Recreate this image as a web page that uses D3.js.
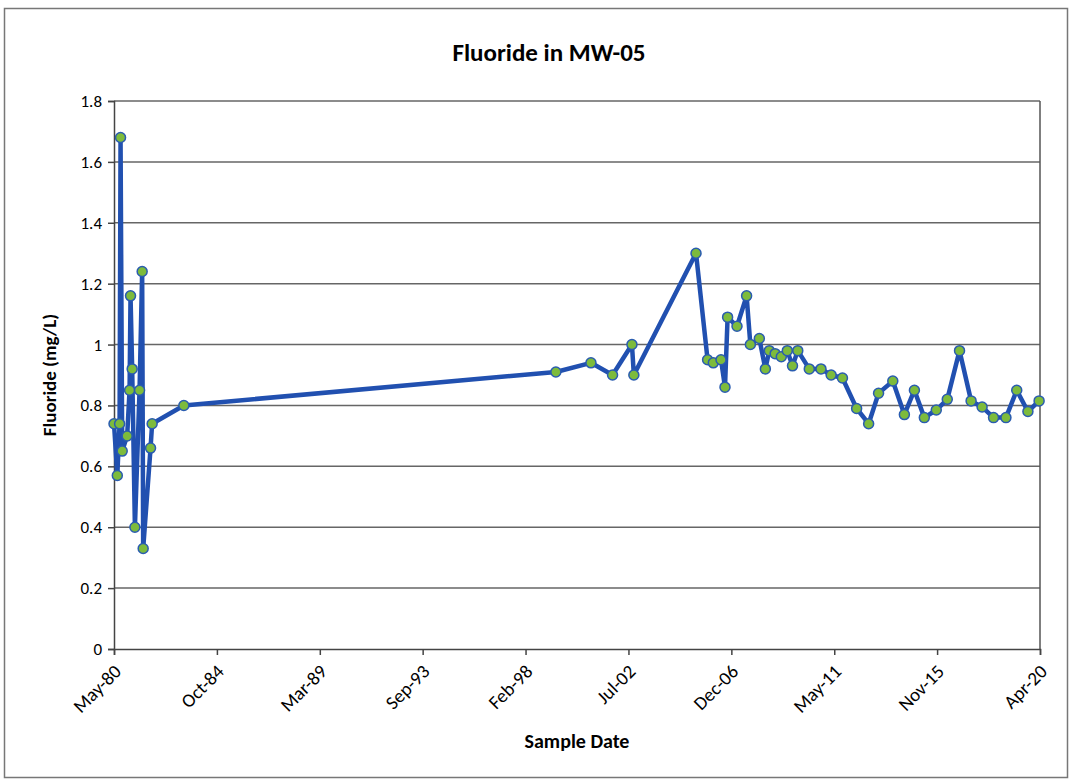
<!DOCTYPE html>
<html>
<head>
<meta charset="utf-8">
<script src="https://cdn.jsdelivr.net/npm/d3@7"></script>
<style>
  body { margin: 0; background: #fff; }
  svg text { font-family: Carlito, Lato, sans-serif; fill: #000; }
</style>
</head>
<body>
<svg id="chart"></svg>
<script>
// sample dates and fluoride results
const sampleDates = [
  '1980-05-19', '1980-07-10', '1980-08-15', '1980-08-30', '1980-09-25', '1980-12-12',
  '1981-01-19', '1981-02-03', '1981-03-01', '1981-04-13', '1981-06-25', '1981-08-05',
  '1981-08-21', '1981-12-15', '1982-01-09', '1983-05-23',
  '1999-06-01', '2000-12-04', '2001-11-09', '2002-09-10', '2002-10-10',
  '2005-06-14', '2005-12-13', '2006-03-13', '2006-07-12', '2006-09-13', '2006-10-24',
  '2007-03-21', '2007-08-19', '2007-10-17', '2008-03-06', '2008-06-09',
  '2008-08-10', '2008-11-10', '2009-02-15', '2009-05-20', '2009-08-10', '2009-11-01',
  '2010-05-01', '2010-11-01', '2011-04-10', '2011-10-05', '2012-05-15', '2012-11-20',
  '2013-04-25', '2013-12-05', '2014-06-05', '2014-11-10', '2015-04-15', '2015-10-20',
  '2016-04-10', '2016-10-20', '2017-04-20', '2017-10-10', '2018-04-08', '2018-10-20',
  '2019-04-08', '2019-10-01', '2020-03-25'
];
const fluorideValues = [
  0.74, 0.57, 0.74, 1.68, 0.65, 0.70,
  0.85, 1.16, 0.92, 0.40, 0.85, 1.24,
  0.33, 0.66, 0.74, 0.80,
  0.91, 0.94, 0.90, 1.00, 0.90,
  1.30, 0.95, 0.94, 0.95, 0.86, 1.09,
  1.06, 1.16, 1.00, 1.02, 0.92,
  0.98, 0.97, 0.96, 0.98, 0.93, 0.98,
  0.92, 0.92, 0.90, 0.89, 0.79, 0.74,
  0.84, 0.88, 0.77, 0.85, 0.76, 0.785,
  0.82, 0.98, 0.815, 0.795, 0.76, 0.76,
  0.85, 0.78, 0.815
];

const tickDates = ['1980-05-19', '1984-10-24', '1989-03-31', '1993-09-04', '1998-02-09',
  '2002-07-17', '2006-12-22', '2011-05-29', '2015-11-02', '2020-04-08'];
const tickLabels = ['May-80', 'Oct-84', 'Mar-89', 'Sep-93', 'Feb-98',
  'Jul-02', 'Dec-06', 'May-11', 'Nov-15', 'Apr-20'];
const yTicks = [0, 0.2, 0.4, 0.6, 0.8, 1, 1.2, 1.4, 1.6, 1.8];

const W = 1072, H = 782;
const margin = {top: 101, right: 32, bottom: 133, left: 114};
const width = W - margin.left - margin.right;
const height = H - margin.top - margin.bottom;

const parse = d3.timeParse('%Y-%m-%d');
const data = sampleDates.map((d, i) => ({date: parse(d), value: fluorideValues[i]}));
const ticks = tickDates.map(parse);

const svg = d3.select('#chart').attr('width', W).attr('height', H);

// chart frame
svg.append('rect')
    .attr('x', 4.5).attr('y', 8.5)
    .attr('width', W - 9).attr('height', H - 13)
    .attr('fill', 'none')
    .attr('stroke', '#777')
    .attr('stroke-width', 1.5);

svg.append('text')
    .attr('x', 549).attr('y', 61)
    .attr('text-anchor', 'middle')
    .style('font-size', '25px')
    .style('font-weight', 'bold')
    .text('Fluoride in MW-05');

const x = d3.scaleTime()
    .domain([ticks[0], ticks[ticks.length - 1]])
    .range([0, width]);

const y = d3.scaleLinear()
    .domain([0, 1.8])
    .range([height, 0]);

const chart = svg.append('g')
    .attr('transform', `translate(${margin.left},${margin.top})`);

// horizontal gridlines
chart.append('g')
  .selectAll('line')
  .data(yTicks.slice(1))
  .join('line')
    .attr('x1', 0).attr('x2', width)
    .attr('y1', d => y(d)).attr('y2', d => y(d))
    .attr('stroke', '#666')
    .attr('stroke-width', 1.5);

// right border
chart.append('line')
    .attr('x1', width).attr('x2', width)
    .attr('y1', 0).attr('y2', height)
    .attr('stroke', '#555')
    .attr('stroke-width', 1.5);

const yAxis = d3.axisLeft(y)
    .tickValues(yTicks)
    .tickSize(6)
    .tickPadding(6)
    .tickFormat(d3.format('~g'));

const yAxisG = chart.append('g').call(yAxis);
yAxisG.selectAll('text').style('font-size', '17px');

const xAxis = d3.axisBottom(x)
    .tickValues(ticks)
    .tickSize(6)
    .tickFormat((d, i) => tickLabels[i]);

const xAxisG = chart.append('g')
    .attr('transform', `translate(0,${height})`)
    .call(xAxis);
xAxisG.selectAll('text')
    .style('font-size', '19px')
    .attr('text-anchor', 'end')
    .attr('dy', null)
    .attr('transform', 'translate(0,16) rotate(-45)')
    .attr('x', 0).attr('y', 11);

[yAxisG, xAxisG].forEach(g => {
  g.select('.domain').attr('stroke', '#444').attr('stroke-width', 1.5);
  g.selectAll('.tick line').attr('stroke', '#444').attr('stroke-width', 1.5);
});

// axis titles
svg.append('text')
    .attr('transform', `translate(56,${margin.top + height / 2}) rotate(-90)`)
    .attr('text-anchor', 'middle')
    .style('font-size', '19px')
    .style('font-weight', 'bold')
    .text('Fluoride (mg/L)');

svg.append('text')
    .attr('x', 577).attr('y', 748)
    .attr('text-anchor', 'middle')
    .style('font-size', '20px')
    .style('font-weight', 'bold')
    .text('Sample Date');

// series
const line = d3.line()
    .x(d => x(d.date))
    .y(d => y(d.value));

chart.append('path')
    .datum(data)
    .attr('fill', 'none')
    .attr('stroke', '#2150b0')
    .attr('stroke-width', 4.5)
    .attr('stroke-linejoin', 'round')
    .attr('d', line);

chart.append('g')
  .selectAll('circle')
  .data(data)
  .join('circle')
    .attr('cx', d => x(d.date))
    .attr('cy', d => y(d.value))
    .attr('r', 5)
    .attr('fill', '#7dbb3c')
    .attr('stroke', '#2a5cb0')
    .attr('stroke-width', 1.5);
</script>
</body>
</html>
